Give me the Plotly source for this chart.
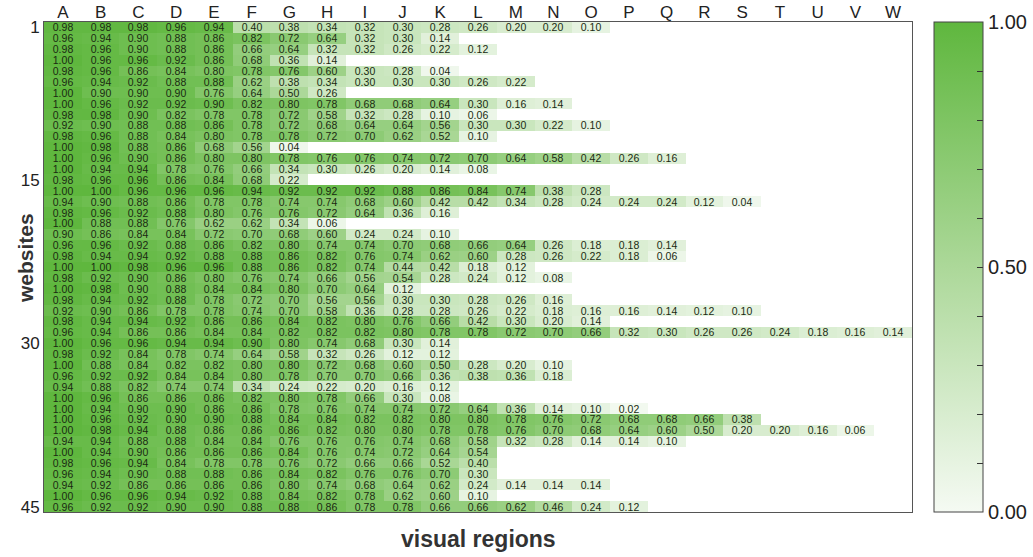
import plotly.graph_objects as go

# Visual regions (columns) and websites (rows)
regions = list("ABCDEFGHIJKLMNOPQRSTUVW")
website_ticks = [1, 15, 30, 45]

# Share of each visual region per website; rows are ragged, missing cells are blank
r01 = [0.98, 0.98, 0.98, 0.96, 0.94, 0.40, 0.38, 0.34, 0.32, 0.30, 0.28, 0.26, 0.20, 0.20, 0.10]
r02 = [0.96, 0.94, 0.90, 0.88, 0.86, 0.82, 0.72, 0.64, 0.32, 0.30, 0.14]
r03 = [0.98, 0.96, 0.90, 0.88, 0.86, 0.66, 0.64, 0.32, 0.32, 0.26, 0.22, 0.12]
r04 = [1.00, 0.96, 0.96, 0.92, 0.86, 0.68, 0.36, 0.14]
r05 = [0.98, 0.96, 0.86, 0.84, 0.80, 0.78, 0.76, 0.60, 0.30, 0.28, 0.04]
r06 = [0.96, 0.94, 0.92, 0.88, 0.88, 0.62, 0.38, 0.34, 0.30, 0.30, 0.30, 0.26, 0.22]
r07 = [1.00, 0.90, 0.90, 0.90, 0.76, 0.64, 0.50, 0.26]
r08 = [1.00, 0.96, 0.92, 0.92, 0.90, 0.82, 0.80, 0.78, 0.68, 0.68, 0.64, 0.30, 0.16, 0.14]
r09 = [0.98, 0.98, 0.90, 0.82, 0.78, 0.78, 0.72, 0.58, 0.32, 0.28, 0.10, 0.06]
r10 = [0.92, 0.90, 0.88, 0.88, 0.86, 0.78, 0.72, 0.68, 0.64, 0.64, 0.56, 0.30, 0.30, 0.22, 0.10]
r11 = [0.98, 0.96, 0.88, 0.84, 0.80, 0.78, 0.78, 0.72, 0.70, 0.62, 0.52, 0.10]
r12 = [1.00, 0.98, 0.88, 0.86, 0.68, 0.56, 0.04]
r13 = [1.00, 0.96, 0.90, 0.86, 0.80, 0.80, 0.78, 0.76, 0.76, 0.74, 0.72, 0.70, 0.64, 0.58, 0.42, 0.26, 0.16]
r14 = [1.00, 0.94, 0.94, 0.78, 0.76, 0.66, 0.34, 0.30, 0.26, 0.20, 0.14, 0.08]
r15 = [0.98, 0.96, 0.96, 0.86, 0.84, 0.68, 0.22]
r16 = [1.00, 1.00, 0.96, 0.96, 0.96, 0.94, 0.92, 0.92, 0.92, 0.88, 0.86, 0.84, 0.74, 0.38, 0.28]
r17 = [0.94, 0.90, 0.88, 0.86, 0.78, 0.78, 0.74, 0.74, 0.68, 0.60, 0.42, 0.42, 0.34, 0.28, 0.24, 0.24, 0.24, 0.12, 0.04]
r18 = [0.98, 0.96, 0.92, 0.88, 0.80, 0.76, 0.76, 0.72, 0.64, 0.36, 0.16]
r19 = [1.00, 0.88, 0.88, 0.76, 0.62, 0.62, 0.34, 0.06]
r20 = [0.90, 0.86, 0.84, 0.84, 0.72, 0.70, 0.68, 0.60, 0.24, 0.24, 0.10]
r21 = [0.96, 0.96, 0.92, 0.88, 0.86, 0.82, 0.80, 0.74, 0.74, 0.70, 0.68, 0.66, 0.64, 0.26, 0.18, 0.18, 0.14]
r22 = [0.98, 0.94, 0.94, 0.92, 0.88, 0.88, 0.86, 0.82, 0.76, 0.74, 0.62, 0.60, 0.28, 0.26, 0.22, 0.18, 0.06]
r23 = [1.00, 1.00, 0.98, 0.96, 0.96, 0.88, 0.86, 0.82, 0.74, 0.44, 0.42, 0.18, 0.12]
r24 = [0.98, 0.92, 0.90, 0.86, 0.80, 0.76, 0.74, 0.66, 0.56, 0.54, 0.28, 0.24, 0.12, 0.08]
r25 = [1.00, 0.98, 0.90, 0.88, 0.84, 0.84, 0.80, 0.70, 0.64, 0.12]
r26 = [0.98, 0.94, 0.92, 0.88, 0.78, 0.72, 0.70, 0.56, 0.56, 0.30, 0.30, 0.28, 0.26, 0.16]
r27 = [0.92, 0.90, 0.86, 0.78, 0.78, 0.74, 0.70, 0.58, 0.36, 0.28, 0.28, 0.26, 0.22, 0.18, 0.16, 0.16, 0.14, 0.12, 0.10]
r28 = [0.98, 0.94, 0.94, 0.92, 0.86, 0.86, 0.84, 0.82, 0.80, 0.76, 0.66, 0.42, 0.30, 0.20, 0.14]
r29 = [0.96, 0.94, 0.86, 0.86, 0.84, 0.84, 0.82, 0.82, 0.82, 0.80, 0.78, 0.78, 0.72, 0.70, 0.66, 0.32, 0.30, 0.26, 0.26, 0.24, 0.18, 0.16, 0.14]
r30 = [1.00, 0.96, 0.96, 0.94, 0.94, 0.90, 0.80, 0.74, 0.68, 0.30, 0.14]
r31 = [0.98, 0.92, 0.84, 0.78, 0.74, 0.64, 0.58, 0.32, 0.26, 0.12, 0.12]
r32 = [1.00, 0.88, 0.84, 0.82, 0.82, 0.80, 0.80, 0.72, 0.68, 0.60, 0.50, 0.28, 0.20, 0.10]
r33 = [0.96, 0.92, 0.92, 0.84, 0.84, 0.80, 0.78, 0.70, 0.70, 0.66, 0.36, 0.38, 0.36, 0.18]
r34 = [0.94, 0.88, 0.82, 0.74, 0.74, 0.34, 0.24, 0.22, 0.20, 0.16, 0.12]
r35 = [1.00, 0.96, 0.86, 0.86, 0.86, 0.82, 0.80, 0.78, 0.66, 0.30, 0.08]
r36 = [1.00, 0.94, 0.90, 0.90, 0.86, 0.86, 0.78, 0.76, 0.74, 0.74, 0.72, 0.64, 0.36, 0.14, 0.10, 0.02]
r37 = [1.00, 0.96, 0.92, 0.90, 0.90, 0.88, 0.84, 0.84, 0.82, 0.82, 0.80, 0.80, 0.78, 0.76, 0.72, 0.68, 0.68, 0.66, 0.38]
r38 = [1.00, 0.98, 0.94, 0.88, 0.86, 0.86, 0.86, 0.82, 0.80, 0.80, 0.78, 0.78, 0.76, 0.70, 0.68, 0.64, 0.60, 0.50, 0.20, 0.20, 0.16, 0.06]
r39 = [0.94, 0.94, 0.88, 0.88, 0.84, 0.84, 0.76, 0.76, 0.76, 0.74, 0.68, 0.58, 0.32, 0.28, 0.14, 0.14, 0.10]
r40 = [1.00, 0.94, 0.90, 0.86, 0.86, 0.86, 0.84, 0.76, 0.74, 0.72, 0.64, 0.54]
r41 = [0.98, 0.96, 0.94, 0.84, 0.78, 0.78, 0.76, 0.72, 0.66, 0.66, 0.52, 0.40]
r42 = [0.96, 0.94, 0.90, 0.88, 0.88, 0.86, 0.84, 0.82, 0.76, 0.76, 0.70, 0.30]
r43 = [0.94, 0.92, 0.86, 0.86, 0.86, 0.86, 0.80, 0.74, 0.68, 0.64, 0.62, 0.24, 0.14, 0.14, 0.14]
r44 = [1.00, 0.96, 0.96, 0.94, 0.92, 0.88, 0.84, 0.82, 0.78, 0.62, 0.60, 0.10]
r45 = [0.96, 0.92, 0.92, 0.90, 0.90, 0.88, 0.88, 0.86, 0.78, 0.78, 0.66, 0.66, 0.62, 0.46, 0.24, 0.12]

rows = [r01, r02, r03, r04, r05, r06, r07, r08, r09, r10, r11, r12, r13, r14, r15,
        r16, r17, r18, r19, r20, r21, r22, r23, r24, r25, r26, r27, r28, r29, r30,
        r31, r32, r33, r34, r35, r36, r37, r38, r39, r40, r41, r42, r43, r44, r45]

ncol = len(regions)
z = [r + [None] * (ncol - len(r)) for r in rows]
labels = [[("%.2f" % v) if v is not None else "" for v in r] for r in z]
websites = list(range(1, len(rows) + 1))

FONT = "Liberation Sans, Arial, Helvetica, sans-serif"

colorscale = [
    [0.0, "#f5faf3"],
    [0.5, "#acd899"],
    [1.0, "#5fb73e"],
]

cb_vals = [i / 10 for i in range(11)]
cb_text = ["%.2f" % v if v in (0.0, 0.5, 1.0) else "" for v in cb_vals]

fig = go.Figure(
    go.Heatmap(
        z=z,
        x=regions,
        y=websites,
        text=labels,
        texttemplate="%{text}",
        textfont=dict(family=FONT, size=10.5, color="#1a2a12"),
        colorscale=colorscale,
        zmin=0,
        zmax=1,
        hoverongaps=False,
        colorbar=dict(
            x=1.0253,
            xanchor="left",
            xpad=0,
            ypad=0,
            y=0.5,
            yanchor="middle",
            len=1,
            lenmode="fraction",
            thickness=49,
            outlinewidth=1,
            outlinecolor="#444",
            tickvals=cb_vals,
            ticktext=cb_text,
            ticks="inside",
            ticklen=6,
            tickcolor="#333",
            tickfont=dict(family=FONT, size=20, color="#222"),
        ),
    )
)

fig.update_xaxes(
    side="top",
    type="category",
    automargin=False,
    tickfont=dict(family=FONT, size=17, color="#222"),
    ticklabelstandoff=-4,
    ticks="",
    showline=True,
    mirror=True,
    linecolor="#555",
    linewidth=1,
    showgrid=False,
    zeroline=False,
)
fig.update_yaxes(
    autorange="reversed",
    automargin=False,
    tickvals=website_ticks,
    ticktext=[str(t) for t in website_ticks],
    tickfont=dict(family=FONT, size=17, color="#222"),
    ticks="",
    showline=True,
    mirror=True,
    linecolor="#555",
    linewidth=1,
    showgrid=False,
    zeroline=False,
)

fig.add_annotation(
    text="<b>websites</b>",
    xref="paper", yref="paper",
    x=-0.022, y=0.518,
    xanchor="center", yanchor="middle",
    textangle=-90,
    showarrow=False,
    font=dict(family=FONT, size=21, color="#333"),
)
fig.add_annotation(
    text="<b>visual regions</b>",
    xref="paper", yref="paper",
    x=0.5, y=-0.055,
    xanchor="center", yanchor="middle",
    showarrow=False,
    font=dict(family=FONT, size=23, color="#333"),
)

fig.update_layout(
    width=1033,
    height=557,
    margin=dict(l=44, r=121, t=22, b=45, autoexpand=False),
    paper_bgcolor="white",
    plot_bgcolor="white",
)

fig.write_html("out.html")
